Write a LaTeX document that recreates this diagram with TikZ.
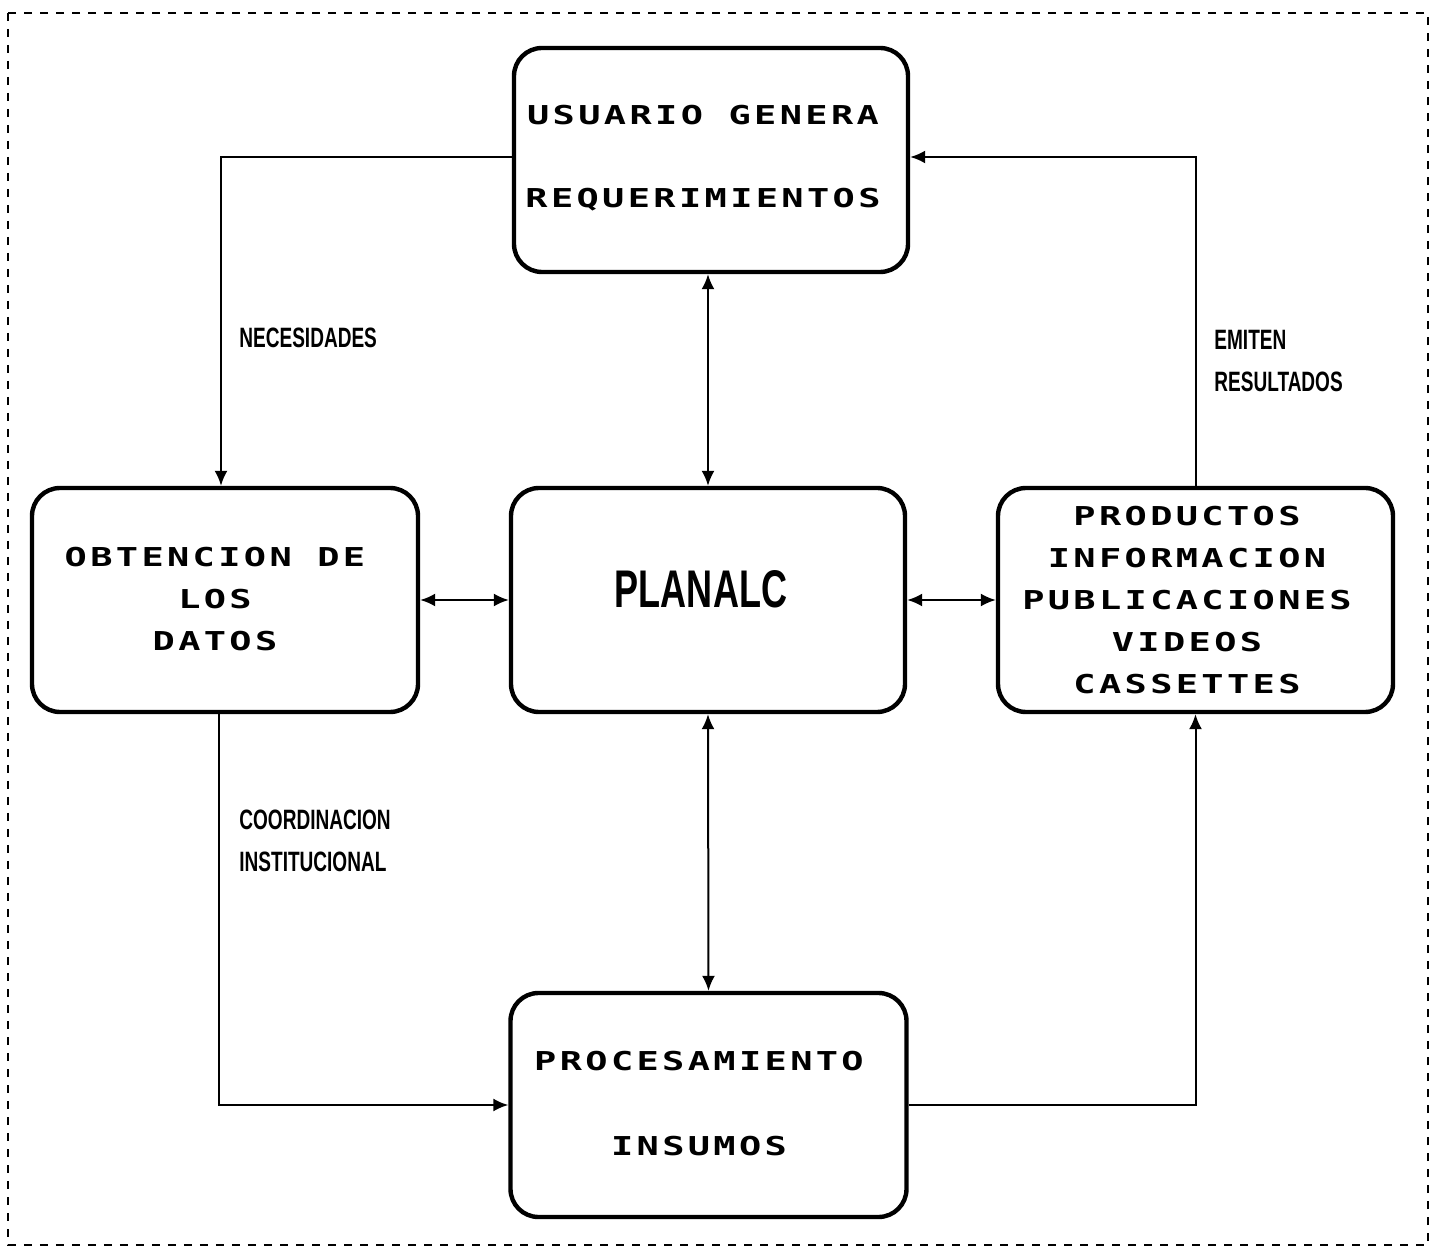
\documentclass[tikz,border=0pt]{standalone}
\usepackage{fontspec}
\usetikzlibrary{arrows.meta}
\newfontfamily\boxfont[FakeStretch=1.42,LetterSpace=13]{DejaVu Sans Mono Bold}
\newfontfamily\labfont[FakeStretch=0.68]{Liberation Sans}
\begin{document}
\begin{tikzpicture}[x=0.5pt,y=-0.5pt,
  blk/.style={draw, line width=2.2pt, rounded corners=14pt, minimum height=112pt, inner sep=0pt},
  btxt/.style={inner sep=0pt, align=center, font=\boxfont\fontsize{13}{21}\selectfont},
  lab/.style={inner sep=0pt, align=left, font=\labfont\bfseries\fontsize{14}{21}\selectfont},
  tip/.tip={Latex[length=7.5pt,width=6.5pt]},
  conn/.style={line width=1pt, -tip},
  dbl/.style={line width=1pt, tip-tip},
  frame/.style={line width=1pt, dash pattern=on 4pt off 4pt}]
\useasboundingbox (0,0) rectangle (1441,1256);
\draw[frame] (8,13) rectangle (1428,1245);

\node[blk, minimum width=197pt] (T) at (711,160) {};
\node[blk, minimum width=193pt] (L) at (225,600) {};
\node[blk, minimum width=197pt] (C) at (708,600) {};
\node[blk, minimum width=197.5pt] (R) at (1195.5,600) {};
\node[blk, minimum width=198pt] (B) at (708.5,1105) {};

\node[btxt] (Tt) at (703,158.5) {USUARIO GENERA\\[20.5pt]REQUERIMIENTOS};
\node[btxt] (Lt) at (215,599) {OBTENCION DE\\LOS\\DATOS};
\node[inner sep=0pt, font=\labfont\bfseries\fontsize{26.5}{30}\selectfont] (Ct) at (701,589) {PLANALC};
\node[btxt] (Rt) at (1187,600.5) {PRODUCTOS\\INFORMACION\\PUBLICACIONES\\VIDEOS\\CASSETTES};
\node[btxt] (Bt) at (699,1103.5) {PROCESAMIENTO\\[21.5pt]INSUMOS};

\node[lab, anchor=west] (n1) at (239,338) {NECESIDADES};
\node[lab, anchor=west] (n2) at (1214,361) {EMITEN\\RESULTADOS};
\node[lab, anchor=west] (n3) at (239,841) {COORDINACION\\INSTITUCIONAL};

\draw[conn] ([yshift=1.5pt]T.west) -| ([xshift=-2pt]L.north);
\draw[conn] (R.north) |- ([yshift=1.5pt]T.east);
\draw[dbl] (C.north |- T.south) -- (C.north);
\draw[dbl] (L.east) -- (C.west);
\draw[dbl] (C.east) -- (R.west);
\draw[dbl] (C.south) -- (B.north);
\draw[conn] ([xshift=-3pt]L.south) |- (B.west);
\draw[conn] (B.east) -| (R.south);
\end{tikzpicture}
\end{document}
